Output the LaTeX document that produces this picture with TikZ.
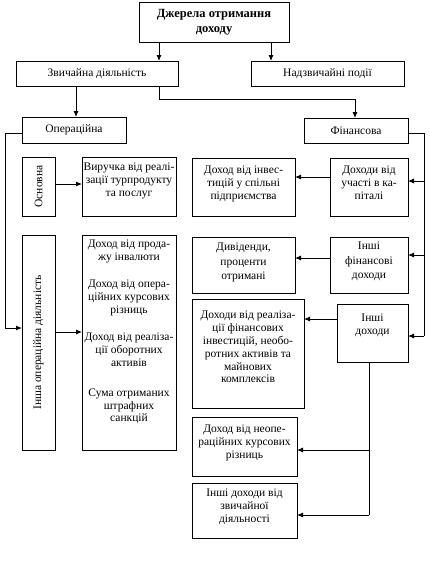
\documentclass[tikz,border=0pt]{standalone}
\usepackage{fontspec}
\setmainfont{Liberation Serif}
\usetikzlibrary{arrows.meta,calc}
\newcommand\bx[5]{\node[boxst, minimum width={(#4)-(#2)}, minimum height={(#5)-(#3)}] (#1) at ({((#2)+(#4))/2},{((#3)+(#5))/2}) {};}
\begin{document}
\begin{tikzpicture}[x=1pt,y=-1pt,
  boxst/.style={draw, line width=0.9pt, rectangle, inner sep=0pt, outer sep=0pt},
  txt/.style={font=\fontsize{11.5}{12.8}\selectfont, align=center, inner sep=0pt, anchor=north},
  ctxt/.style={font=\fontsize{11.5}{12.8}\selectfont, align=center, inner sep=0pt},
  arr/.style={line width=0.9pt, -{Latex[length=6pt,width=5pt]}},
  ln/.style={line width=0.9pt}]
\useasboundingbox (0,0) rectangle (430,568);
% boxes
\bx{top}{139}{2}{289}{42}
\bx{zv}{16}{61}{178}{86}
\bx{nadz}{251}{61}{404}{86}
\bx{oper}{22}{117}{126}{143}
\bx{fin}{304}{118}{408}{143}
\bx{osn}{22}{157}{55}{216}
\bx{vyr}{82}{157}{176}{216}
\bx{insha}{22}{235}{55}{450}
\bx{prod}{82}{235}{176}{450}
\bx{inv}{192}{158}{295}{216}
\bx{uch}{330}{158}{408}{216}
\bx{div}{192}{237}{295}{293}
\bx{inshfin}{330}{237}{408}{293}
\bx{real}{192}{299}{304}{408}
\bx{inshdoh}{337}{304}{408}{362}
\bx{neop}{192}{417}{297}{476}
\bx{zvich}{192}{483}{297}{538}
% texts
\node[ctxt, font=\fontsize{12.5}{15}\selectfont\bfseries] (ttop) at (top.center) {Джерела отримання\\доходу};
\node[ctxt] (tzv) at (zv.center) {Звичайна діяльність};
\node[ctxt] (tnadz) at (nadz.center) {Надзвичайні події};
\node[ctxt] (toper) at (oper.center) {Операційна};
\node[ctxt] (tfin) at (fin.center) {Фінансова};
\node[ctxt, rotate=90] (tosn) at (osn.center) {Основна};
\node[ctxt, rotate=90] (tinsha) at (insha.center) {Інша операційна діяльність};
\node[txt] (tvyr) at ([yshift=-6pt]vyr.north) {Виручка від реалі-\\зації турпродукту\\та послуг};
\node[txt] (tprod) at ([yshift=-5pt]prod.north) {Доход від прода-\\жу інвалюти\\[14pt]Доход від опера-\\ційних курсових\\різниць\\[15pt]Доход від реаліза-\\ції оборотних\\активів\\[17pt]Сума отриманих\\штрафних\\санкцій};
\node[txt] (tinv) at ([yshift=-8pt]inv.north) {Доход від інвес-\\тицій у спільні\\підприємства};
\node[txt] (tuch) at ([yshift=-8pt]uch.north) {Доходи від\\участі в ка-\\піталі};
\node[txt, font=\fontsize{11.5}{14.5}\selectfont] (tdiv) at ([yshift=-6pt]div.north) {Дивіденди,\\проценти\\отримані};
\node[txt, font=\fontsize{11.5}{14.5}\selectfont] (tinshfin) at ([yshift=-5pt]inshfin.north) {Інші\\фінансові\\доходи};
\node[txt] (tinshdoh) at ([yshift=-10pt]inshdoh.north) {Інші\\доходи};
\node[txt] (treal) at ([yshift=-12pt]real.north) {Доходи від реаліза-\\ції фінансових\\інвестицій, необо-\\ротних активів та\\майнових\\комплексів};
\node[txt] (tneop) at ([yshift=-8pt]neop.north) {Доход від неопе-\\раційних курсових\\різниць};
\node[txt] (tzvich) at ([yshift=-6pt]zvich.north) {Інші доходи від\\звичайної\\діяльності};
% connectors
\draw[arr] (top.south -| 159,0) -- (zv.north -| 159,0);
\draw[arr] (top.south -| 271,0) -- (nadz.north -| 271,0);
\draw[arr] (zv.south -| 76,0) -- (oper.north -| 76,0);
\draw[arr] (zv.south -| 159,0) -- (159,99) -- (355,99) -- (fin.north -| 355,0);
\draw[arr] (oper.west |- 0,133) -- (5,133) -- (5,328) -- (insha.west |- 0,328);
\draw[arr] (osn.east |- 0,184) -- (vyr.west |- 0,184);
\draw[arr] (insha.east |- 0,332) -- (prod.west |- 0,332);
\draw[ln] (fin.east |- 0,133) -- (424,133) -- (424,336);
\draw[arr] (424,181) -- (uch.east |- 0,181);
\draw[arr] (424,255) -- (inshfin.east |- 0,255);
\draw[arr] (424,336) -- (inshdoh.east |- 0,336);
\draw[arr] (uch.west |- 0,177) -- (inv.east |- 0,177);
\draw[arr] (inshfin.west |- 0,258) -- (div.east |- 0,258);
\draw[arr] (inshdoh.west |- 0,319) -- (real.east |- 0,319);
\draw[ln] (inshdoh.south -| 369,0) -- (369,515);
\draw[arr] (369,450) -- (neop.east |- 0,450);
\draw[arr] (369,515) -- (zvich.east |- 0,515);
\end{tikzpicture}
\end{document}
